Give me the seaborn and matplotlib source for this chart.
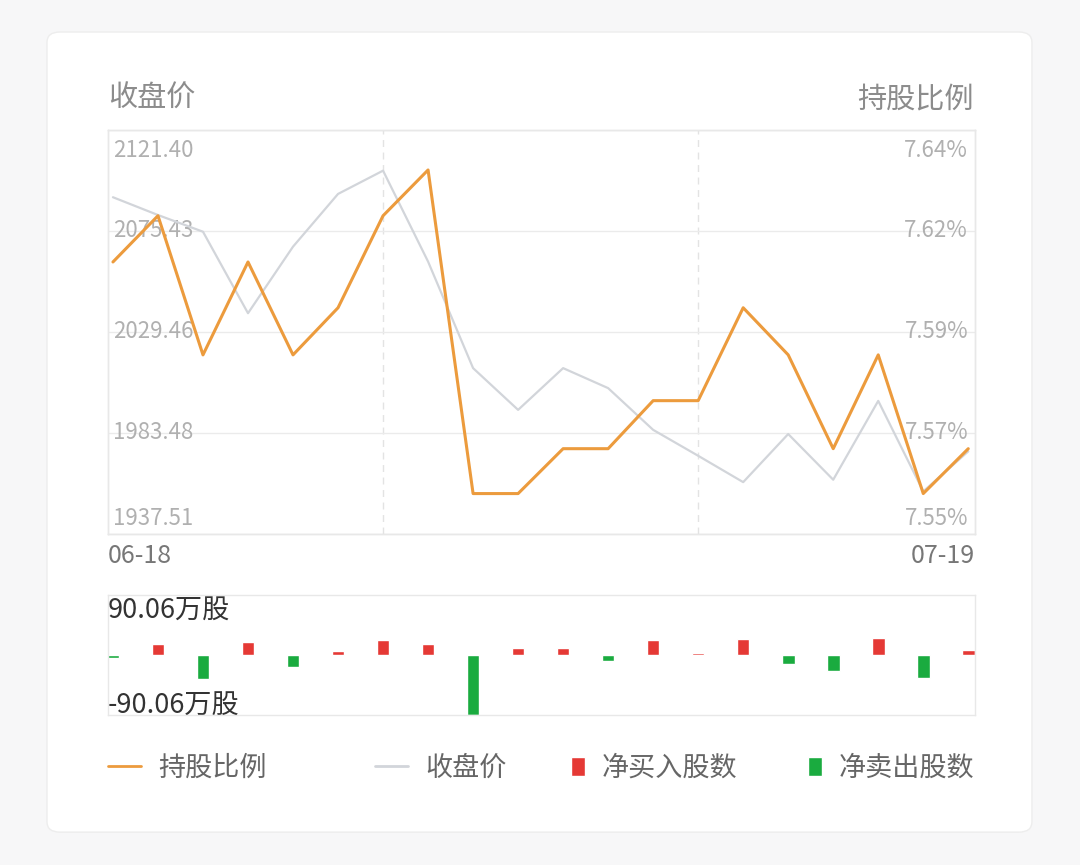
import numpy as np
import pandas as pd
import matplotlib.pyplot as plt
import matplotlib.transforms as mtransforms
from matplotlib.patches import FancyBboxPatch, Patch
from matplotlib.lines import Line2D
import seaborn as sns

# data
close_price = [2090.8, 2082.7, 2075.1, 2038.0, 2068.3, 2092.3, 2102.9, 2061.5, 2013.0, 1994.0,
               2013.0, 2003.9, 1984.9, 1973.1, 1961.1, 1983.0, 1962.2, 1998.1, 1956.9, 1975.1]
hold_ratio = [7.6106, 7.6209, 7.5899, 7.6106, 7.5899, 7.6004, 7.6209, 7.6311, 7.5590, 7.5590,
              7.5690, 7.5690, 7.5797, 7.5797, 7.6004, 7.5899, 7.5690, 7.5899, 7.5590, 7.5690]
net_shares = [-5, 17, -36.5, 19.5, -18, 6.5, 22, 16, -90.06, 10.5,
              10.5, -8.5, 23, 2.5, 23.5, -14, -24.5, 25, -35, 7.5]
date_labels = ["06-18", "07-19"]
price_ticks = [1937.51, 1983.48, 2029.46, 2075.43, 2121.40]
price_tick_labels = ["1937.51", "1983.48", "2029.46", "2075.43", "2121.40"]
hold_ticks = [7.55, 7.5725, 7.595, 7.6175, 7.64]
hold_tick_labels = ["7.55%", "7.57%", "7.59%", "7.62%", "7.64%"]
bar_ticks = [-90.06, 90.06]
bar_tick_labels = ["-90.06万股", "90.06万股"]
month_marks = [6, 13]

orange = "#ec9b3d"
grey_line = "#d2d5da"
red = "#e53935"
green = "#1aab3f"

df = pd.DataFrame({
    "idx": np.arange(len(close_price)),
    "price": close_price,
    "hold": hold_ratio,
    "net": net_shares,
})
df["side"] = np.where(df["net"] >= 0, "buy", "sell")

sns.set_theme(style="white")
plt.rcParams["font.family"] = ["Noto Sans CJK SC", "DejaVu Sans"]

fig = plt.figure(figsize=(10.8, 8.65), dpi=100)
fig.patch.set_facecolor("#f7f7f8")
card = FancyBboxPatch((0.0435, 0.038), 0.912, 0.925, boxstyle="round,pad=0,rounding_size=0.012",
                      transform=fig.transFigure, facecolor="white", edgecolor="#ededed", lw=1, zorder=-1)
fig.patches.append(card)

ax = fig.add_axes([0.1, 0.3827, 0.8028, 0.467])
ax2 = ax.twinx()
axb = fig.add_axes([0.1, 0.1734, 0.8028, 0.1387])
for a in (ax, ax2, axb):
    a.patch.set_alpha(0)

# main lines
sns.lineplot(data=df, x="idx", y="price", ax=ax, color=grey_line, linewidth=1.6)
sns.lineplot(data=df, x="idx", y="hold", ax=ax2, color=orange, linewidth=2.2)

xlim = (-0.11, 19.15)
for a in (ax, ax2, axb):
    a.set_xlim(*xlim)
    a.set_xlabel("")
    a.set_ylabel("")
    a.set_xticks([])
    for s in a.spines.values():
        s.set_color("#e8e8e8")
        s.set_linewidth(1)

ax.set_ylim(price_ticks[0], price_ticks[-1])
ax2.set_ylim(hold_ticks[0], hold_ticks[-1])
ax.set_yticks(price_ticks, price_tick_labels)
ax2.set_yticks(hold_ticks, hold_tick_labels)
ax.grid(axis="y", color="#ebebeb", linewidth=1)
ax.set_axisbelow(True)
for m in month_marks:
    ax.axvline(m, color="#e3e3e3", linewidth=1, linestyle=(0, (5, 4)), zorder=0)

ax.tick_params(axis="y", length=0, pad=-3.5, labelsize=16, labelcolor="#b0b0b0")
ax2.tick_params(axis="y", length=0, pad=-5, labelsize=16, labelcolor="#b0b0b0")


def place_labels(labels, ha, dy_top, dy_bottom):
    n = len(labels)
    for i, lbl in enumerate(labels):
        lbl.set_ha(ha)
        if i == 0:
            lbl.set_va("bottom")
            lbl.set_transform(lbl.get_transform() + mtransforms.ScaledTranslation(0, dy_bottom / 100, fig.dpi_scale_trans))
        elif i == n - 1:
            lbl.set_va("top")
            lbl.set_transform(lbl.get_transform() + mtransforms.ScaledTranslation(0, dy_top / 100, fig.dpi_scale_trans))
        else:
            lbl.set_va("center")


place_labels(ax.get_yticklabels(), "left", -9, 4)
place_labels(ax2.get_yticklabels(), "right", -9, 4)

# net buy / sell bars
sns.barplot(data=df, x="idx", y="net", hue="side", palette={"buy": red, "sell": green},
            native_scale=True, width=0.28, dodge=False, errorbar=None, legend=False,
            saturation=1, ax=axb)
axb.set_xlim(*xlim)
axb.set_xticks([])
axb.set_xlabel("")
axb.set_ylabel("")
axb.set_ylim(bar_ticks[0], bar_ticks[1])
axb.set_yticks(bar_ticks, bar_tick_labels)
axb.tick_params(axis="y", length=0, pad=0, labelsize=19.5, labelcolor="#333333")
place_labels(axb.get_yticklabels(), "left", -3, -5)

# date labels and titles
ax.text(0, -0.022, date_labels[0], transform=ax.transAxes, ha="left", va="top", fontsize=18, color="#777777")
ax.text(1, -0.022, date_labels[1], transform=ax.transAxes, ha="right", va="top", fontsize=18, color="#777777")
fig.text(0.1, 1 - 99 / 865, "收盘价", ha="left", va="center", fontsize=21, color="#8c8c8c")
fig.text(0.9015, 1 - 99 / 865, "持股比例", ha="right", va="center", fontsize=21, color="#8c8c8c")

# legend items
leg_y = 1 - 768 / 865
items = [
    (Line2D([], [], color=orange, lw=2), "持股比例", 108 / 1080, 1.2),
    (Line2D([], [], color=grey_line, lw=2), "收盘价", 375 / 1080, 1.2),
    (Patch(facecolor=red), "净买入股数", 571 / 1080, 0.5),
    (Patch(facecolor=green), "净卖出股数", 808 / 1080, 0.5),
]
for handle, text, x0, hl in items:
    leg = fig.legend(handles=[handle], labels=[text], loc="center left", bbox_to_anchor=(x0, leg_y),
                     frameon=False, fontsize=19.5, handlelength=hl, handletextpad=0.65,
                     borderpad=0, borderaxespad=0, labelcolor="#666666")

fig.savefig("out.png", dpi=100, facecolor=fig.get_facecolor())
